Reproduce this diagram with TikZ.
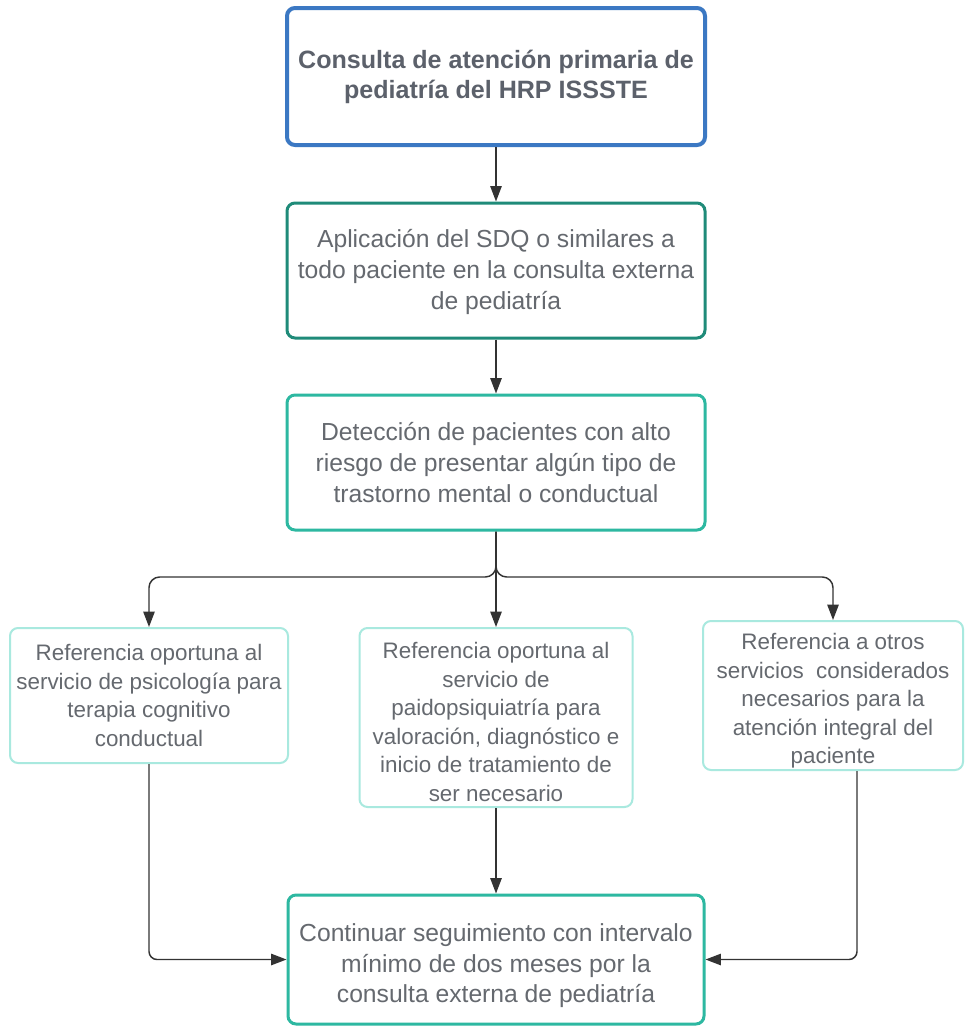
\documentclass[tikz,border=0pt]{standalone}
\usepackage{fontspec}
\setmainfont{Liberation Sans}
\usetikzlibrary{arrows.meta}
\definecolor{txt}{HTML}{65696F}
\definecolor{txtb}{HTML}{5C616B}
\definecolor{cone}{HTML}{3B78C3}
\definecolor{ctwo}{HTML}{1F8B79}
\definecolor{cthree}{HTML}{2DB8A1}
\definecolor{clight}{HTML}{A9E9DF}
\definecolor{arrc}{HTML}{333333}
\newcommand{\lowtext}[2]{\raisebox{-#1}[\height][\depth]{\begin{tabular}{@{}c@{}}#2\end{tabular}}}
\begin{document}
\begin{tikzpicture}[x=0.75pt,y=-0.75pt,
  box/.style={draw, rounded corners=6pt, align=center, inner sep=0pt, text=txt},
  bigtxt/.style={font=\fontsize{18.5}{23}\selectfont},
  smalltxt/.style={font=\fontsize{16.8}{21.4}\selectfont},
  arr/.style={draw=arrc, line width=1.1pt, -{Triangle[length=11.5pt,width=8.5pt]}}
]
\useasboundingbox[fill=white] (0,0) rectangle (970,1028);
\node[box, draw=cone, text=txtb, line width=3pt, minimum width=313.5pt, minimum height=102.75pt,
  font=\bfseries\fontsize{18.8}{22.5}\selectfont] (n1) at (496,76.5)
  {Consulta de atención primaria de\\pediatría del HRP ISSSTE};
\node[box, bigtxt, draw=ctwo, line width=2.25pt, minimum width=313.5pt, minimum height=101.25pt] (n2) at (496,270.5)
  {\lowtext{1.5pt}{Aplicación del SDQ o similares a\\todo paciente en la consulta externa\\de pediatría}};
\node[box, bigtxt, draw=cthree, line width=2.25pt, minimum width=313.5pt, minimum height=101.25pt] (n3) at (496,462.5)
  {Detección de pacientes con alto\\riesgo de presentar algún tipo de\\trastorno mental o conductual};
\node[box, smalltxt, draw=clight, line width=1.5pt, minimum width=208.5pt, minimum height=101.25pt] (n4) at (149,695.5)
  {Referencia oportuna al\\servicio de psicología para\\terapia cognitivo\\conductual};
\node[box, smalltxt, draw=clight, line width=1.5pt, minimum width=204.75pt, minimum height=134.25pt] (n5) at (496,717.5)
  {\lowtext{5pt}{Referencia oportuna al\\servicio de\\paidopsiquiatría para\\valoración, diagnóstico e\\inicio de tratamiento de\\ser necesario}};
\node[box, smalltxt, draw=clight, line width=1.5pt, minimum width=195pt, minimum height=111.75pt] (n6) at (833,695.5)
  {\lowtext{4pt}{Referencia a otros\\servicios\ \ considerados\\necesarios para la\\atención integral del\\paciente}};
\node[box, bigtxt, draw=cthree, line width=2.25pt, minimum width=312pt, minimum height=96.75pt] (n7) at (496,959.5)
  {\lowtext{5pt}{Continuar seguimiento con intervalo\\mínimo de dos meses por la\\consulta externa de pediatría}};
\coordinate (br) at (496,577);
\draw[arr] (n1.south) -- (n2.north);
\draw[arr] (n2.south) -- (n3.north);
\draw[arr, rounded corners=8pt] (n3.south) -- (br) -| (n4.north);
\draw[arr] (n3.south) -- (n5.north);
\draw[arr, rounded corners=8pt] (n3.south) -- (br) -| (n6.north);
\draw[arr, rounded corners=6pt] (n4.south) |- (n7.west);
\draw[arr] (n5.south) -- (n7.north);
\draw[arr, rounded corners=6pt] ([xshift=18pt]n6.south) |- (n7.east);
\end{tikzpicture}
\end{document}
